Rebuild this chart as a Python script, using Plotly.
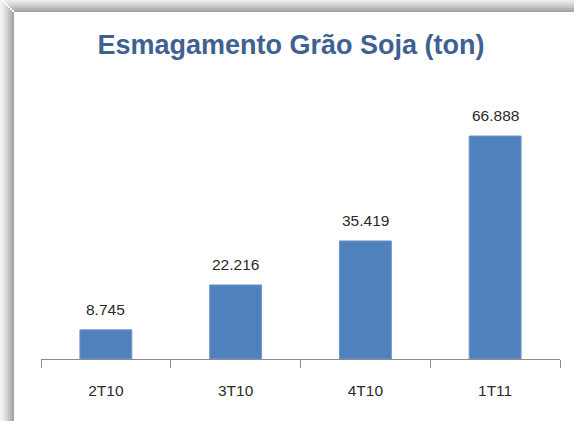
import plotly.graph_objects as go

categories = ["2T10", "3T10", "4T10", "1T11"]
values = [8745, 22216, 35419, 66888]
title_text = "Esmagamento Grão Soja (ton)"

W, H = 574, 421
ML, MR, MT, MB = 41, 14, 124, 62
pw, ph = W - ML - MR, H - MT - MB

fig = go.Figure()
fig.add_trace(go.Bar(
    x=categories, y=values, width=0.4,
    marker=dict(color="#4F81BD", line=dict(color="#7096C9", width=1)),
    hoverinfo="skip",
))

for c, v in zip(categories, values):
    fig.add_annotation(x=c, y=v, text=f"{v:,}".replace(",", "."), showarrow=False,
                       yanchor="bottom", yshift=10,
                       font=dict(family="Liberation Sans, Arial", size=15.5, color="#2b2b2b"))

def px_x(p):
    return (p - ML) / pw

def px_y(p):
    return 1 - (p - MT) / ph

shapes = []
shades = ["#a6a6a6", "#b5b5b5", "#c4c4c4", "#d2d2d2", "#dfdfdf", "#eaeaea", "#f3f3f3"]
for i, col in enumerate(shades):
    shapes.append(dict(type="rect", xref="paper", yref="paper",
                       x0=px_x(14 - 2 * (i + 1)), x1=px_x(14 - 2 * i),
                       y0=px_y(H + 5), y1=px_y(12 - 2 * i), fillcolor=col, line=dict(width=0), layer="below"))
    shapes.append(dict(type="rect", xref="paper", yref="paper",
                       x0=px_x(14 - 2 * i), x1=px_x(W + 5),
                       y0=px_y(12 - 2 * i), y1=px_y(12 - 2 * (i + 1)), fillcolor=col, line=dict(width=0), layer="below"))
shapes.append(dict(type="rect", xref="paper", yref="paper",
                   x0=px_x(14), x1=px_x(W + 5), y0=px_y(H + 5), y1=px_y(12),
                   fillcolor="white", line=dict(width=0), layer="below"))

fig.update_layout(
    width=W, height=H,
    margin=dict(l=ML, r=MR, t=MT, b=MB, autoexpand=False),
    paper_bgcolor="white", plot_bgcolor="rgba(0,0,0,0)",
    separators=",.",
    showlegend=False,
    title=dict(text=f"<b>{title_text}</b>", x=291 / W, xanchor="center",
               y=1 - 45 / H, yanchor="middle",
               font=dict(family="Liberation Sans, Arial", size=27, color="#3F6192")),
    xaxis=dict(showline=True, linecolor="#8c8c8c", linewidth=1,
               ticks="outside", tickson="boundaries", ticklen=8, tickcolor="#8c8c8c",
               ticklabelstandoff=17, automargin=False,
               tickfont=dict(family="Liberation Sans, Arial", size=15.5, color="#2b2b2b"),
               showgrid=False, fixedrange=True),
    yaxis=dict(range=[0, 70500], visible=False, showgrid=False, zeroline=False, fixedrange=True),
    shapes=shapes,
    bargap=0.6,
)

fig.write_html("out.html", config={"displayModeBar": False},
               post_script="document.body.style.margin='0';document.body.style.overflow='hidden';")
